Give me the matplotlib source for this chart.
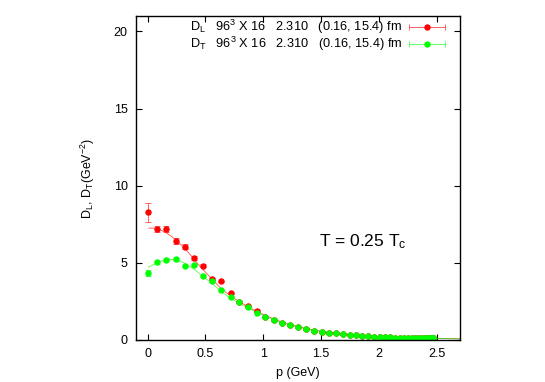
import numpy as np
import matplotlib
matplotlib.use("Agg")
import matplotlib.pyplot as plt

plt.rcParams['font.family'] = ['Liberation Sans', 'DejaVu Sans']
plt.rcParams['mathtext.fontset'] = 'custom'
plt.rcParams['mathtext.rm'] = 'Liberation Sans'
plt.rcParams['mathtext.it'] = 'Liberation Sans:italic'

# lattice momenta (GeV)
p = [0.0, 0.081, 0.161, 0.242, 0.322, 0.402, 0.482, 0.561, 0.639, 0.717,
     0.794, 0.870, 0.945, 1.019, 1.092, 1.164, 1.235, 1.304, 1.372, 1.439,
     1.504, 1.567, 1.628, 1.688, 1.747, 1.803, 1.857, 1.909, 1.960, 2.008,
     2.054, 2.098, 2.139, 2.178, 2.215, 2.250, 2.282, 2.312, 2.339, 2.364,
     2.386, 2.406, 2.423, 2.437, 2.449, 2.458, 2.465, 2.469, 2.470]

D_L = [8.28, 7.22, 7.20, 6.40, 6.06, 5.30, 4.80, 3.94, 3.80, 3.05,
       2.49, 2.21, 1.89, 1.50, 1.30, 1.13, 0.97, 0.84, 0.70, 0.59,
       0.53, 0.48, 0.43, 0.39, 0.35, 0.31, 0.28, 0.25, 0.22, 0.20,
       0.18, 0.17, 0.16, 0.15, 0.14, 0.13, 0.13, 0.12, 0.12, 0.11,
       0.11, 0.11, 0.10, 0.10, 0.10, 0.10, 0.10, 0.10, 0.10]
D_L_err = [0.6, 0.2, 0.2, 0.18, 0.15, 0.12, 0.1] + [0.05] * 42

D_T = [4.36, 5.05, 5.20, 5.23, 4.77, 4.86, 4.16, 3.80, 3.23, 2.80,
       2.49, 2.12, 1.78, 1.49, 1.30, 1.13, 0.96, 0.83, 0.69, 0.58,
       0.52, 0.47, 0.43, 0.39, 0.35, 0.31, 0.28, 0.25, 0.22, 0.20,
       0.18, 0.17, 0.16, 0.15, 0.14, 0.13, 0.13, 0.12, 0.12, 0.11,
       0.11, 0.11, 0.10, 0.10, 0.10, 0.10, 0.10, 0.10, 0.10]
D_T_err = [0.2, 0.1, 0.1, 0.1] + [0.05] * 45

# fit curves
fit_p = [0.01, 0.05, 0.08, 0.15, 0.2, 0.25, 0.3, 0.35, 0.4, 0.45, 0.5, 0.55,
         0.6, 0.65, 0.7, 0.8, 0.9, 1.0, 1.1, 1.2, 1.3, 1.4, 1.5, 1.6, 1.7,
         1.8, 1.9, 2.0, 2.2, 2.4, 2.6, 2.7]
fit_L = [7.25, 7.25, 7.22, 7.0, 6.75, 6.45, 6.1, 5.7, 5.25, 4.8, 4.4, 4.0,
         3.6, 3.25, 2.95, 2.45, 2.02, 1.65, 1.33, 1.07, 0.86, 0.7, 0.57, 0.47,
         0.39, 0.32, 0.27, 0.22, 0.16, 0.12, 0.09, 0.08]
fit_T = [4.72, 4.9, 5.02, 5.18, 5.22, 5.2, 5.05, 4.85, 4.6, 4.3, 4.0, 3.7,
         3.38, 3.07, 2.8, 2.35, 1.95, 1.6, 1.3, 1.06, 0.86, 0.7, 0.57, 0.47,
         0.39, 0.32, 0.27, 0.22, 0.16, 0.12, 0.09, 0.08]

labels = [r'$\mathrm{D_L}$   96$^3$ X 16   2.310   (0.16, 15.4) fm',
          r'$\mathrm{D_T}$   96$^3$ X 16   2.310   (0.16, 15.4) fm']
red = '#ff0000'
green = '#00ff00'

fig = plt.figure(figsize=(5.45, 3.82), dpi=100)
ax = fig.add_axes([0.2495, 0.110, 0.5945, 0.848])

ax.plot(fit_p, fit_L, color=red, lw=0.7, alpha=0.6)
ax.plot(fit_p, fit_T, color=green, lw=0.7, alpha=0.6)
ax.errorbar(p, D_L, yerr=D_L_err, fmt='o', color=red, ms=3.6, elinewidth=0.7,
            capsize=2.2, capthick=0.7, ecolor='#ff6060')
ax.errorbar(p, D_T, yerr=D_T_err, fmt='o', color=green, ms=3.6, elinewidth=0.7,
            capsize=2.2, capthick=0.7, ecolor='#60ff60')

# legend, gnuplot style
for i, (lab, c, ec) in enumerate(zip(labels, [red, green], ['#ff6060', '#60ff60'])):
    yy = 0.966 - i * 0.053
    ax.text(0.822, yy, lab, transform=ax.transAxes, ha='right', va='center',
            fontsize=9.2)
    ax.plot([0.843, 0.953], [yy, yy], transform=ax.transAxes, color=ec, lw=0.7,
            marker='|', ms=5, mew=0.7)
    ax.plot([0.898], [yy], transform=ax.transAxes, marker='o', color=c, ms=3.6)

ax.text(0.70, 0.305, r'T = 0.25 T$_\mathrm{c}$', transform=ax.transAxes,
        ha='center', va='center', fontsize=12.5)

ax.set_xlim(-0.1, 2.7)
ax.set_ylim(0, 21)
ax.set_xticks([0, 0.5, 1, 1.5, 2, 2.5])
ax.set_xticklabels(['0', '0.5', '1', '1.5', '2', '2.5'])
ax.set_yticks([0, 5, 10, 15, 20])
ax.tick_params(direction='in', top=True, right=True, length=4, width=0.8,
               labelsize=9, pad=6)
for s in ax.spines.values():
    s.set_linewidth(1.0)
ax.set_xlabel('p (GeV)', fontsize=9, labelpad=5)
ax.set_ylabel(r'$\mathrm{D_L}$, $\mathrm{D_T}$(GeV$^{-2}$)', fontsize=9,
              labelpad=12)

fig.savefig('out.png', dpi=100)
